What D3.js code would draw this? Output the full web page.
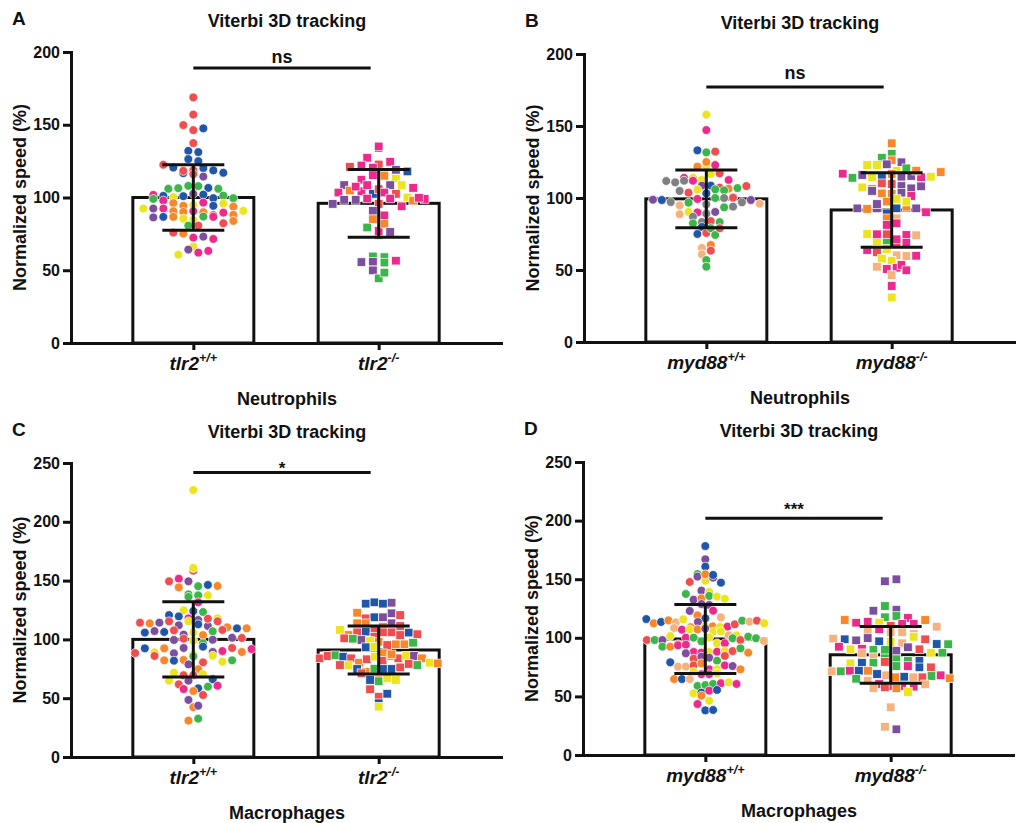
<!DOCTYPE html>
<html>
<head>
<meta charset="utf-8">
<script src="https://cdn.jsdelivr.net/npm/d3@7"></script>
<style>
  body { margin: 0; background: #fff; }
  svg { display: block; font-family: "Liberation Sans", Arial, Helvetica, sans-serif; }
</style>
</head>
<body>
<svg id="fig" width="1018" height="823"></svg>
<script>
// one colour per fish
const fishColors = { r: "#ef4e50", b: "#1f56a7", g: "#3cb54a", y: "#ebe41e", o: "#f7872a",
                     p: "#ec2a8b", v: "#7c4e9e", k: "#808083", t: "#f4b27f" };

const tlrCats = ["tlr2+/+", "tlr2-/-"];
const mydCats = ["myd88+/+", "myd88-/-"];

// neutrophils, tlr2 (A)
const neutTlrWT = [[168.8,"r"],[157,"r"],[149.8,"r"],[146.3,"r"],[147.5,"b"],[137.4,"r"],[132,"b"],[131.2,"b"],[126.4,"b"],[125,"b"],
  [122.5,"r"],[116.7,"b"],[120.6,"b"],[118.3,"r"],[118.8,"r"],[120.2,"b"],[118.6,"b"],[116,"r"],[117,"b"],[114.4,"v"],
  [106,"g"],[106.4,"g"],[108,"g"],[107.8,"g"],[106.6,"b"],[106,"g"],[101.8,"p"],[101.1,"b"],[100.2,"y"],[100.9,"b"],
  [99,"g"],[102.5,"v"],[102,"b"],[99.5,"b"],[97.9,"p"],[101.3,"g"],[99.5,"g"],[96.1,"o"],[94.3,"o"],[94.8,"y"],
  [92.4,"y"],[96.5,"p"],[92.4,"v"],[94.3,"b"],[92.4,"p"],[95.8,"y"],[93.8,"o"],[90.6,"o"],[90.1,"o"],[90.6,"p"],
  [86.3,"v"],[86.7,"b"],[86.7,"o"],[85.5,"y"],[89.9,"o"],[84.6,"y"],[86.9,"g"],[87.9,"r"],[86.7,"p"],[89.6,"p"],
  [88.1,"o"],[90.8,"y"],[82.3,"r"],[80.7,"g"],[80.7,"r"],[75.9,"r"],[75.2,"o"],[83.9,"o"],[72.4,"p"],[73.1,"v"],
  [71.5,"p"],[66.2,"y"],[60.7,"y"],[64.2,"v"],[62.1,"p"],[63.3,"p"]];
const neutTlrKO = [[134.2,"b"],[135.1,"p"],[127.3,"p"],[121.1,"r"],[122.7,"r"],[122,"p"],[124.5,"p"],[120.6,"p"],[117.2,"v"],[112.2,"p"],
  [115.4,"p"],[114.9,"o"],[119,"v"],[113,"y"],[117.9,"b"],[108.5,"v"],[103.4,"p"],[104.8,"o"],[104.3,"p"],[107.5,"p"],
  [108.5,"p"],[102.5,"b"],[105.7,"r"],[108.5,"v"],[103.4,"p"],[108.5,"y"],[102.5,"r"],[106.6,"p"],[100,"y"],[95.6,"v"],
  [98.4,"v"],[98.4,"v"],[99.3,"p"],[95.6,"r"],[99.3,"p"],[93.9,"p"],[97.9,"o"],[99,"p"],[99.8,"p"],[90.8,"v"],
  [85.1,"o"],[79.4,"g"],[74.1,"g"],[77,"p"],[87.7,"p"],[82,"o"],[76.3,"v"],[55.6,"v"],[59.5,"g"],[55.9,"v"],
  [49.9,"v"],[44.4,"g"],[59,"g"],[48.4,"g"],[55.3,"g"],[56.6,"p"]];
const neutTlrMean = [100, 96];
const neutTlrSD = [22.5, 23.3];

// neutrophils, myd88 (B)
const neutMydWT = [[157.9,"y"],[147.2,"p"],[133.1,"b"],[131.7,"g"],[132.2,"r"],[121.8,"o"],[122.5,"y"],[125,"o"],[122.9,"p"],[114,"p"],
  [111.8,"k"],[114,"y"],[112.5,"y"],[110.9,"k"],[116.7,"y"],[117.1,"r"],[112,"k"],[112.5,"p"],[112,"p"],[108.6,"v"],
  [104.9,"k"],[108.6,"b"],[103.7,"r"],[107.2,"r"],[105.8,"y"],[103.2,"b"],[106.5,"o"],[106,"g"],[106.9,"g"],[105.3,"g"],
  [108.3,"r"],[100.5,"p"],[98.8,"v"],[98.6,"b"],[97.2,"k"],[94.9,"t"],[96.8,"g"],[99.3,"p"],[95.6,"k"],[100,"g"],
  [100,"k"],[100.2,"r"],[97,"k"],[98.6,"v"],[96,"t"],[88.7,"t"],[90.3,"y"],[90,"p"],[89.1,"k"],[90.3,"v"],
  [93.5,"g"],[94,"k"],[87,"k"],[82.4,"g"],[83.3,"k"],[84,"r"],[83.3,"g"],[79.9,"b"],[75,"b"],[75.7,"r"],
  [79,"g"],[74.3,"g"],[79,"r"],[65.3,"t"],[67.4,"o"],[60.9,"t"],[63.4,"r"],[56.9,"g"],[52.3,"g"]];
const neutMydKO = [[138,"o"],[130.6,"g"],[128,"g"],[126.2,"o"],[124.8,"v"],[122.9,"y"],[122.9,"y"],[123.4,"v"],[119,"y"],[116.9,"p"],
  [114,"g"],[116,"v"],[114.6,"y"],[120.6,"g"],[114,"b"],[116.7,"o"],[114.8,"v"],[115.3,"v"],[114.4,"p"],[114.8,"y"],
  [118,"o"],[119,"o"],[107.4,"y"],[106.3,"o"],[104.9,"v"],[110.2,"r"],[103.2,"o"],[109.7,"r"],[103,"o"],[108.3,"v"],
  [103.7,"v"],[106.7,"v"],[108.1,"v"],[101.4,"p"],[92.8,"v"],[92.4,"o"],[92.8,"v"],[95.8,"v"],[89.4,"b"],[92.8,"b"],
  [94,"o"],[97.5,"o"],[99.3,"y"],[92.8,"v"],[97.5,"y"],[85.9,"o"],[85.9,"t"],[90.1,"p"],[81.3,"p"],[82.4,"p"],
  [75,"y"],[69.9,"y"],[74.8,"p"],[69.7,"g"],[63.9,"p"],[74.8,"r"],[68.5,"r"],[62.3,"r"],[71.3,"p"],[64.6,"y"],
  [74.3,"p"],[69,"p"],[74.1,"t"],[60.2,"t"],[57.9,"y"],[52.3,"t"],[56.5,"y"],[50.7,"p"],[59.7,"t"],[51.6,"p"],
  [59.9,"p"],[53.5,"p"],[46.5,"t"],[49.8,"p"],[38.9,"p"],[31,"y"]];
const neutMydMean = [99.4, 91.7];
const neutMydSD = [20, 25.9];

// macrophages, tlr2 (C)
const macTlrWT = [[227,"y"],[158.4,"r"],[160.7,"y"],[149.4,"r"],[151.6,"p"],[149.4,"v"],[145.2,"g"],[146.3,"b"],[144.3,"o"],[145.4,"o"],
  [138.3,"g"],[137.5,"g"],[136.1,"g"],[137.5,"y"],[131.5,"p"],[124.7,"y"],[124.1,"b"],[123.3,"g"],[120.7,"b"],[119.6,"b"],
  [117.9,"p"],[114.2,"r"],[113.7,"o"],[114.2,"v"],[115.4,"r"],[112,"v"],[115.4,"y"],[116.5,"v"],[112.8,"b"],[111.4,"v"],
  [117.6,"r"],[117.9,"y"],[115.4,"r"],[110.3,"o"],[105.8,"b"],[107.1,"v"],[106.3,"b"],[107.7,"r"],[104,"v"],[109.4,"b"],
  [105.8,"y"],[103.7,"o"],[109.4,"o"],[106.9,"g"],[108,"r"],[99.5,"v"],[100.6,"r"],[101.4,"v"],[98.9,"y"],[96.7,"g"],
  [101.2,"r"],[99.7,"v"],[88.4,"r"],[92.4,"b"],[89,"y"],[92.4,"o"],[88.2,"v"],[92.7,"v"],[87,"y"],[93.8,"b"],
  [89.3,"v"],[90.1,"p"],[92.7,"r"],[89.3,"o"],[91.8,"p"],[85.9,"r"],[82.2,"o"],[81.9,"b"],[82.5,"o"],[85.6,"g"],
  [78.8,"v"],[80.5,"r"],[86.1,"y"],[81,"y"],[82.2,"g"],[74.6,"o"],[71.7,"y"],[69.5,"r"],[69.7,"r"],[70.3,"y"],
  [64.9,"y"],[61.8,"r"],[64.9,"v"],[66.1,"b"],[57.8,"p"],[58.4,"b"],[56.1,"o"],[59.8,"g"],[60.6,"p"],[52.7,"r"],
  [48.5,"v"],[42.3,"o"],[43.6,"v"],[30.9,"o"],[32.6,"g"]];
const macTlrKO = [[130.4,"b"],[131.5,"b"],[130.4,"b"],[131.2,"v"],[122.7,"o"],[117.9,"r"],[118.8,"b"],[118.8,"v"],[122.2,"v"],[120.7,"r"],
  [113.7,"o"],[113.7,"o"],[108.6,"r"],[110.8,"o"],[108,"y"],[113.7,"v"],[111.4,"r"],[103.7,"o"],[106,"r"],[106.6,"b"],
  [100.9,"r"],[100.6,"g"],[102.3,"r"],[99.5,"v"],[98.6,"y"],[106,"r"],[106,"r"],[103.7,"r"],[105.8,"b"],[104.4,"r"],
  [93.3,"b"],[98,"o"],[93.8,"y"],[95.2,"r"],[95.8,"o"],[95.8,"o"],[97.2,"g"],[83.9,"r"],[85.9,"r"],[86.5,"g"],
  [85.3,"b"],[83.9,"r"],[88.2,"o"],[80.2,"o"],[83.1,"r"],[85.3,"y"],[81.9,"r"],[85.9,"o"],[83.9,"r"],[85.9,"y"],
  [87.3,"o"],[85.9,"v"],[83.9,"o"],[78.2,"r"],[80.2,"y"],[78,"y"],[74.8,"b"],[72.5,"o"],[75.1,"g"],[71.2,"r"],
  [74.8,"b"],[74.8,"b"],[76.2,"r"],[79.1,"r"],[79.6,"o"],[78.2,"g"],[65.5,"b"],[65.5,"o"],[64.4,"g"],[66.9,"y"],
  [65.5,"y"],[57.6,"r"],[51.3,"r"],[53.8,"b"],[45.7,"b"],[42.8,"y"]];
const macTlrMean = [100, 91];
const macTlrSD = [32, 20.5];

// macrophages, myd88 (D)
const macMydWT = [[178.3,"b"],[167,"v"],[160.7,"b"],[154.4,"g"],[147.6,"r"],[152.2,"v"],[148.7,"y"],[151.3,"v"],[154.2,"o"],[147,"b"],
  [153.6,"b"],[140.2,"v"],[137.4,"g"],[139.1,"y"],[132.5,"v"],[133.7,"o"],[135.7,"g"],[135.1,"y"],[133.4,"y"],[128.8,"v"],
  [128,"v"],[122.9,"v"],[119.2,"o"],[116.6,"b"],[116,"b"],[123.1,"p"],[112.4,"o"],[113.5,"b"],[114.9,"o"],[113.2,"t"],
  [115.8,"y"],[109,"o"],[108.4,"t"],[113.5,"v"],[106.9,"p"],[109.8,"y"],[109.8,"o"],[109.2,"y"],[109.5,"p"],[111.5,"r"],
  [114.6,"g"],[107.2,"y"],[113.7,"t"],[114.6,"r"],[107.2,"o"],[117.5,"t"],[107.8,"v"],[112.4,"y"],[105.2,"y"],[105.5,"y"],
  [98.1,"r"],[98.1,"g"],[98.1,"v"],[101.5,"y"],[94.5,"r"],[100.1,"p"],[92.4,"g"],[100.1,"g"],[92.4,"o"],[97,"g"],
  [100.4,"y"],[93.6,"p"],[102.1,"t"],[95.3,"y"],[102.1,"y"],[95.3,"p"],[99.6,"g"],[98.1,"r"],[100.9,"g"],[94.1,"p"],
  [99.6,"g"],[97.3,"t"],[87.9,"p"],[87.3,"p"],[87.9,"y"],[86.8,"v"],[82.2,"r"],[88.1,"p"],[88.7,"y"],[88.7,"r"],
  [91,"g"],[83.9,"v"],[83,"v"],[87.3,"o"],[80.5,"g"],[84.5,"r"],[79.1,"b"],[75.4,"t"],[75.4,"t"],[76.5,"r"],
  [78.2,"o"],[73.1,"p"],[73.1,"y"],[76.5,"p"],[75.9,"v"],[73.1,"o"],[71.1,"y"],[64.8,"o"],[68.9,"p"],[68.9,"p"],
  [64.8,"b"],[69.7,"y"],[64.8,"t"],[58.9,"g"],[59.7,"g"],[60.6,"g"],[61.2,"p"],[62,"y"],[60.6,"p"],[52.6,"y"],
  [53.2,"b"],[50.6,"o"],[54.9,"p"],[55.5,"b"],[46.3,"y"],[43.5,"p"],[38.1,"b"],[38.4,"b"]];
const macMydKO = [[148.2,"v"],[149.9,"v"],[127.1,"g"],[123.1,"v"],[124,"v"],[115.2,"o"],[112.9,"p"],[117.5,"g"],[118.6,"g"],[116.9,"p"],
  [113.7,"p"],[105.8,"t"],[112.9,"y"],[110.1,"r"],[111.8,"p"],[111.8,"p"],[115.2,"o"],[107.3,"p"],[109.5,"t"],[104.9,"t"],
  [104.7,"t"],[99.3,"t"],[103.2,"t"],[98.7,"b"],[97.8,"v"],[99.8,"v"],[97,"b"],[96.4,"y"],[92.4,"p"],[95.3,"t"],
  [100.9,"y"],[98.7,"r"],[94.7,"b"],[94.5,"g"],[90.2,"y"],[90.7,"p"],[89.6,"g"],[89.6,"g"],[89,"v"],[86.8,"t"],
  [91.9,"v"],[90.2,"r"],[87.3,"y"],[87.3,"g"],[83.4,"t"],[78.2,"y"],[82.5,"g"],[78.8,"b"],[81.7,"g"],[78.8,"g"],
  [80.5,"g"],[79.4,"r"],[80.5,"b"],[75.9,"g"],[71.4,"t"],[75.9,"p"],[71.4,"g"],[74.8,"b"],[71.9,"p"],[71.9,"b"],
  [74.8,"r"],[71.9,"o"],[69.1,"b"],[65.1,"g"],[68,"t"],[66.3,"o"],[66.8,"b"],[66.3,"t"],[66.3,"r"],[67.4,"g"],
  [68,"p"],[65.4,"o"],[63.4,"t"],[60.6,"p"],[57.2,"t"],[58.9,"p"],[57.8,"r"],[58.9,"p"],[58.3,"p"],[56.9,"o"],
  [60.3,"t"],[53.8,"y"],[40.7,"t"],[24.1,"t"],[21.9,"v"]];
const macMydMean = [99, 85.5];
const macMydSD = [29.5, 24.2];

const panels = [
  { letter: "A", ox: 71, oy: 343, h: 291, max: 200, ticks: [0, 50, 100, 150, 200], cats: tlrCats,
    groups: [neutTlrWT, neutTlrKO], mean: neutTlrMean, sd: neutTlrSD, steps: [10, 11.5],
    sig: "ns", sigAt: 189, sigDy: -5, cell: "Neutrophils" },
  { letter: "B", ox: 584, oy: 342, h: 288, max: 200, ticks: [0, 50, 100, 150, 200], cats: mydCats,
    groups: [neutMydWT, neutMydKO], mean: neutMydMean, sd: neutMydSD, steps: [8.9, 9.8],
    sig: "ns", sigAt: 177, sigDy: -8, cell: "Neutrophils" },
  { letter: "C", ox: 71, oy: 757, h: 294, max: 250, ticks: [0, 50, 100, 150, 200, 250], cats: tlrCats,
    groups: [macTlrWT, macTlrKO], mean: macTlrMean, sd: macTlrSD, steps: [9.7, 8.6],
    sig: "*", sigAt: 242, sigDy: 2, cell: "Macrophages" },
  { letter: "D", ox: 583, oy: 755, h: 293, max: 250, ticks: [0, 50, 100, 150, 200, 250], cats: mydCats,
    groups: [macMydWT, macMydKO], mean: macMydMean, sd: macMydSD, steps: [7.8, 11.5],
    sig: "***", sigAt: 202, sigDy: -3, cell: "Macrophages" }
];

const svg = d3.select("#fig");
const ink = "#111";
const barW = 121, capW = 62, binPx = 8.5, rowMax = 118;

// Prism-like scatter: points in the same value bin share a row, spread around the centre,
// squeezed when a row would get wider than the bar
function swarm(pts, y, step) {
  const items = pts.map(d => ({ v: d[0], c: d[1] }));
  const rows = d3.group(items, d => Math.floor((y(0) - y(d.v)) / binPx));
  rows.forEach(row => {
    const s = row.length > 1 ? Math.min(step, rowMax / (row.length - 1)) : step;
    row.forEach((d, j) => { d.dx = (j - (row.length - 1) / 2) * s; });
  });
  return items;
}

panels.forEach(p => {
  const g = svg.append("g");
  const y = d3.scaleLinear().domain([0, p.max]).range([p.oy, p.oy - p.h]);
  const x = d3.scalePoint().domain(p.cats).range([p.ox, p.ox + 430]).padding(0.66);
  const top = y(p.max);

  // bars
  g.selectAll("rect.bar").data(p.cats).join("rect")
    .attr("class", "bar")
    .attr("x", c => x(c) - barW / 2)
    .attr("width", barW)
    .attr("y", (c, i) => y(p.mean[i]))
    .attr("height", (c, i) => y(0) - y(p.mean[i]))
    .attr("fill", "#fff").attr("stroke", ink).attr("stroke-width", 3);

  // points
  p.groups.forEach((pts, gi) => {
    const cx = x(p.cats[gi]);
    const items = swarm(pts, y, p.steps[gi]);
    if (gi === 0) {
      g.append("g").selectAll("circle").data(items).join("circle")
        .attr("cx", d => cx + d.dx).attr("cy", d => y(d.v)).attr("r", 4.4)
        .attr("fill", d => fishColors[d.c]).attr("stroke", "#fff").attr("stroke-width", 0.7);
    } else {
      g.append("g").selectAll("rect").data(items).join("rect")
        .attr("x", d => cx + d.dx - 4.3).attr("y", d => y(d.v) - 4.3)
        .attr("width", 8.6).attr("height", 8.6)
        .attr("fill", d => fishColors[d.c]).attr("stroke", "#fff").attr("stroke-width", 0.7);
    }
  });

  // mean +/- SD
  p.cats.forEach((c, i) => {
    const hi = y(p.mean[i] + p.sd[i]), lo = y(p.mean[i] - p.sd[i]);
    const eb = g.append("g").attr("stroke", ink).attr("stroke-width", 3);
    eb.append("line").attr("x1", x(c)).attr("x2", x(c)).attr("y1", hi).attr("y2", lo);
    eb.append("line").attr("x1", x(c) - capW / 2).attr("x2", x(c) + capW / 2).attr("y1", hi).attr("y2", hi);
    eb.append("line").attr("x1", x(c) - capW / 2).attr("x2", x(c) + capW / 2).attr("y1", lo).attr("y2", lo);
  });

  // axes
  const ya = g.append("g").attr("transform", `translate(${p.ox},0)`)
    .call(d3.axisLeft(y).tickValues(p.ticks).tickSize(8).tickPadding(3).tickSizeOuter(0));
  const xa = g.append("g").attr("transform", `translate(0,${p.oy})`)
    .call(d3.axisBottom(x).tickSize(7).tickSizeOuter(0).tickFormat(""));
  [ya, xa].forEach(a => {
    a.select(".domain").attr("stroke", ink).attr("stroke-width", 3).attr("stroke-linecap", "square");
    a.selectAll(".tick line").attr("stroke", ink).attr("stroke-width", 3);
  });
  ya.selectAll(".tick text").attr("fill", ink)
    .style("font-size", "16px").style("font-weight", "bold")
    .style("font-family", "'Liberation Sans', Arial, sans-serif");

  // category labels with superscript genotype
  p.cats.forEach(c => {
    const gene = c.slice(0, -3), geno = c.slice(-3);
    const t = g.append("text").attr("x", x(c)).attr("y", p.oy + 27)
      .attr("text-anchor", "middle").attr("fill", ink)
      .style("font-size", "19px").style("font-weight", "bold").style("font-style", "italic");
    t.append("tspan").text(gene);
    t.append("tspan").attr("dy", -8).style("font-size", "12.5px").text(geno);
  });

  // significance bar
  const sx1 = x(p.cats[0]), sx2 = x(p.cats[1]) - 8, sy = y(p.sigAt);
  g.append("line").attr("x1", sx1).attr("x2", sx2).attr("y1", sy).attr("y2", sy)
    .attr("stroke", ink).attr("stroke-width", 3);
  g.append("text").attr("x", (sx1 + sx2) / 2).attr("y", sy + p.sigDy)
    .attr("text-anchor", "middle").attr("fill", ink)
    .style("font-size", p.sig === "ns" ? "18px" : "17px").style("font-weight", "bold")
    .text(p.sig);

  // titles and labels
  g.append("text").attr("x", p.ox + 216).attr("y", top - 25.5)
    .attr("text-anchor", "middle").attr("fill", ink)
    .style("font-size", "18px").style("font-weight", "bold").text("Viterbi 3D tracking");
  g.append("text").attr("x", p.ox - 59).attr("y", top - 27.5).attr("fill", ink)
    .style("font-size", "19px").style("font-weight", "bold").text(p.letter);
  g.append("text")
    .attr("transform", `translate(${p.ox - 51},${(p.oy + top) / 2}) rotate(-90)`)
    .attr("text-anchor", "middle").attr("dominant-baseline", "central").attr("fill", ink)
    .style("font-size", "18px").style("font-weight", "bold").text("Normalized speed (%)");
  g.append("text").attr("x", p.ox + 216).attr("y", p.oy + 62)
    .attr("text-anchor", "middle").attr("fill", ink)
    .style("font-size", "18px").style("font-weight", "bold").text(p.cell);
});
</script>
</body>
</html>
